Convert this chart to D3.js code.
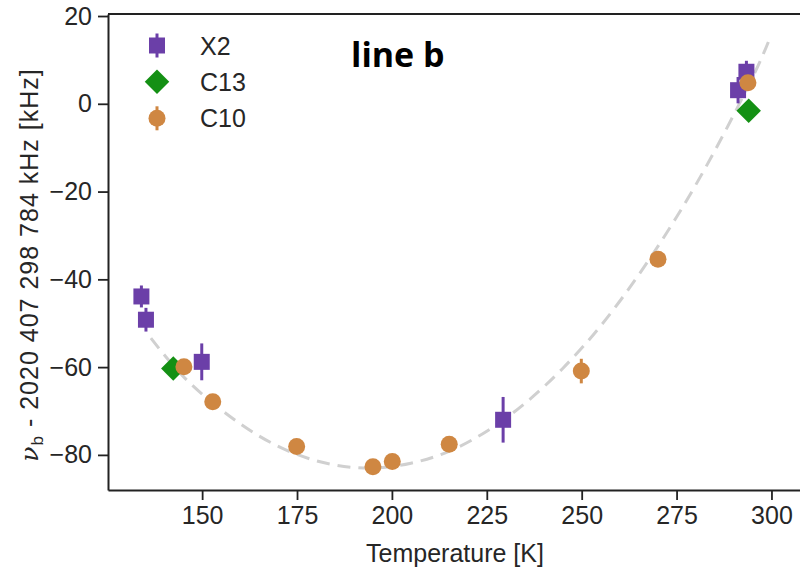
<!DOCTYPE html>
<html>
<head>
<meta charset="utf-8">
<script src="https://cdn.jsdelivr.net/npm/d3@7"></script>
<style>
  html, body { margin: 0; padding: 0; background: #fff; }
  svg { display: block; }
</style>
</head>
<body>
<svg id="chart" width="800" height="573"></svg>
<script>
// ---------- data ----------
const xTicks = [150, 175, 200, 225, 250, 275, 300];
const yTicks = [-80, -60, -40, -20, 0, 20];

// X2 (purple squares): temperature, value, error
const x2T   = [134.0, 135.2, 149.9, 229.3, 291.2, 293.4];
const x2V   = [-43.9, -49.2, -58.8, -72.0, 3.1, 7.3];
const x2Err = [2.5, 2.7, 4.2, 5.2, 3.0, 2.5];

// C13 (green diamonds)
const c13T   = [142.4, 294.0];
const c13V   = [-60.3, -1.6];
const c13Err = [1.0, 1.0];

// C10 (orange circles)
const c10T   = [145.2, 152.8, 174.9, 195.0, 200.1, 215.1, 249.9, 270.1, 293.8];
const c10V   = [-59.9, -67.9, -78.1, -82.7, -81.5, -77.6, -60.9, -35.4, 4.8];
const c10Err = [1.5, 1.0, 1.0, 1.0, 1.0, 1.0, 2.8, 1.0, 1.5];

// dashed fit curve
const fitT = [136.5, 145, 155, 165, 175, 185, 195, 205, 215, 225, 235, 245, 255, 265, 275, 285, 295, 299.6];
const fitV = [-53.4, -62.1, -69.7, -75.7, -79.9, -82.3, -83.0, -81.9, -79.2, -74.6, -68.3, -60.3, -50.6, -39.0, -25.8, -10.8, 6.0, 15.0];

const seriesNames = ["X2", "C13", "C10"];
const colors = { X2: "#6b3fa8", C13: "#149014", C10: "#cf8742" };

(function () {
// ---------- layout ----------
const svg = d3.select("#chart");
const pL = 108, pR = 806, pT = 14, pB = 490;
const x = d3.scaleLinear().domain([125.2, 309.1]).range([pL, pR]);
const y = d3.scaleLinear().domain([-88, 20.46]).range([pB, pT]);
const fontFam = "'Liberation Sans', Arial, Helvetica, sans-serif";
const textCol = "#262626";
const fs = 25;

// fit curve
const fitPts = fitT.map((t, i) => [t, fitV[i]]);
svg.append("path")
  .datum(fitPts)
  .attr("d", d3.line().x(d => x(d[0])).y(d => y(d[1])).curve(d3.curveNatural))
  .attr("fill", "none")
  .attr("stroke", "#d0d0d0")
  .attr("stroke-width", 3)
  .attr("stroke-dasharray", "13 8");

function symFor(shape) {
  return d3.symbol().type(shape === "circle" ? d3.symbolCircle : d3.symbolSquare)
    .size(shape === "square" ? 256 : shape === "diamond" ? 300 : 227);
}

function drawSeries(ts, vs, es, name, shape) {
  const g = svg.append("g");
  const data = ts.map((t, i) => ({ t, v: vs[i], e: es[i] }));
  g.selectAll("line.err").data(data).enter().append("line")
    .attr("x1", d => x(d.t)).attr("x2", d => x(d.t))
    .attr("y1", d => y(d.v - d.e)).attr("y2", d => y(d.v + d.e))
    .attr("stroke", colors[name]).attr("stroke-width", 3);
  g.selectAll("path.m").data(data).enter().append("path")
    .attr("d", symFor(shape))
    .attr("transform", d => `translate(${x(d.t)},${y(d.v)})` + (shape === "diamond" ? " rotate(45)" : ""))
    .attr("fill", colors[name]);
}
drawSeries(x2T, x2V, x2Err, "X2", "square");
drawSeries(c13T, c13V, c13Err, "C13", "diamond");
drawSeries(c10T, c10V, c10Err, "C10", "circle");

// axes
const xAxis = svg.append("g").attr("transform", `translate(0,${pB})`)
  .call(d3.axisBottom(x).tickValues(xTicks).tickSize(10).tickPadding(6).tickSizeOuter(0));
const yAxis = svg.append("g").attr("transform", `translate(${pL},0)`)
  .call(d3.axisLeft(y).tickValues(yTicks).tickSize(10).tickPadding(6).tickSizeOuter(0)
    .tickFormat(d => d < 0 ? "\u2212" + Math.abs(d) : String(d)));
[xAxis, yAxis].forEach(a => {
  a.selectAll("text").attr("font-family", fontFam).attr("font-size", fs).attr("fill", textCol);
  a.selectAll("line").attr("stroke", "#222").attr("stroke-width", 1.8);
  a.select(".domain").attr("stroke", "#222").attr("stroke-width", 2);
});
// top and right spines
svg.append("line").attr("x1", pL).attr("x2", pR).attr("y1", pT).attr("y2", pT)
  .attr("stroke", "#222").attr("stroke-width", 2);
svg.append("line").attr("x1", pR).attr("x2", pR).attr("y1", pT).attr("y2", pB)
  .attr("stroke", "#222").attr("stroke-width", 2);

// axis labels
svg.append("text")
  .attr("x", 455).attr("y", 562)
  .attr("text-anchor", "middle")
  .attr("font-family", fontFam).attr("font-size", fs).attr("fill", textCol)
  .text("Temperature [K]");

const yl = svg.append("text")
  .attr("transform", `translate(38,265) rotate(-90)`)
  .attr("text-anchor", "middle")
  .attr("letter-spacing", 1)
  .attr("font-family", fontFam).attr("font-size", fs).attr("fill", textCol);
yl.append("tspan").attr("font-style", "italic").attr("font-family", "'DejaVu Serif', serif").text("\u03bd");
yl.append("tspan").attr("font-size", 17).attr("dy", 5).text("b");
yl.append("tspan").attr("dy", -5).text(" - 2020 407 298 784 kHz [kHz]");

// legend
const legY = [45.5, 81.7, 118.3];
const legShapes = ["square", "diamond", "circle"];
seriesNames.forEach((name, i) => {
  const cx = 157, cy = legY[i];
  const shape = legShapes[i];
  if (shape !== "diamond") {
    svg.append("line").attr("x1", cx).attr("x2", cx).attr("y1", cy - 12).attr("y2", cy + 12)
      .attr("stroke", colors[name]).attr("stroke-width", 3);
  }
  svg.append("path").attr("d", symFor(shape))
    .attr("transform", `translate(${cx},${cy})` + (shape === "diamond" ? " rotate(45)" : ""))
    .attr("fill", colors[name]);
  svg.append("text").attr("x", 200).attr("y", cy + 9)
    .attr("font-family", fontFam).attr("font-size", fs).attr("fill", textCol)
    .text(name);
});

// annotation
svg.append("text").attr("x", 351).attr("y", 67)
  .attr("font-family", "'Open Sans', Lato, sans-serif").attr("font-weight", "bold")
  .attr("font-size", 34).attr("fill", "#000")
  .text("line b");
})();
</script>
</body>
</html>
